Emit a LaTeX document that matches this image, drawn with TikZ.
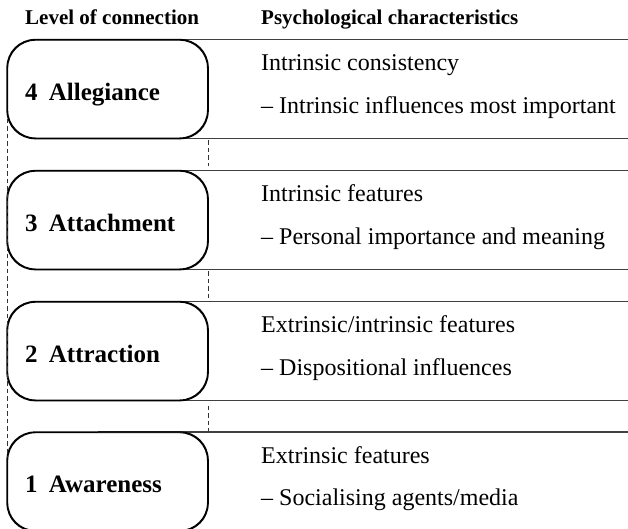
\documentclass[tikz,border=0pt]{standalone}
\usepackage{fontspec}
\setmainfont{Liberation Serif}
\begin{document}
\begin{tikzpicture}[x=1pt,y=-1pt,
  levelbox/.style={draw=black, line width=1.2pt, rounded corners=28pt,
    minimum width=200pt, minimum height=98pt, inner sep=0pt, anchor=north west},
  levellabel/.style={anchor=base west, inner sep=0pt, font=\fontsize{25}{30}\selectfont\bfseries},
  headlabel/.style={anchor=base west, inner sep=0pt, font=\fontsize{21}{25}\selectfont\bfseries},
  desc/.style={anchor=base west, inner sep=0pt, font=\fontsize{24}{29}\selectfont},
  rule/.style={draw=black!75, line width=1.4pt},
  guide/.style={draw=black!80, line width=0.9pt, dash pattern=on 4.5pt off 3pt}]
\useasboundingbox (0,0) rectangle (628,528);
\clip (0,0) rectangle (628,528);
\coordinate (R) at (628,0);

% column headings
\node[headlabel] (h1) at (25,24) {Level of connection};
\node[headlabel] (h2) at (261,24) {Psychological characteristics};

% level boxes (empty shapes, labels placed separately)
\path (7,39.5)  node[levelbox] (b4) {};
\path (7,170.5) node[levelbox] (b3) {};
\path (7,301.5) node[levelbox] (b2) {};
\path (7,432)   node[levelbox] (b1) {};

% horizontal rules bounding each row
\foreach \b in {b4,b3,b2,b1}{
  \draw[rule] ([xshift=-10pt]\b.north) -- (\b.north -| R);
  \draw[rule] ([xshift=-10pt]\b.south) -- (\b.south -| R);
}

% redraw boxes on top of the rules
\foreach \b in {b4,b3,b2,b1}{
  \draw[black, line width=1.2pt, rounded corners=28pt] (\b.north west) rectangle (\b.south east);
}

% level labels
\node[levellabel] (l4) at (25,100.2) {4\hspace{0.45em}Allegiance};
\node[levellabel] (l3) at (25,231.2) {3\hspace{0.45em}Attachment};
\node[levellabel] (l2) at (25,362.2) {2\hspace{0.45em}Attraction};
\node[levellabel] (l1) at (25,492.7) {1\hspace{0.45em}Awareness};

% characteristics
\node[desc] (d4a) at (261,70.9)  {Intrinsic consistency};
\node[desc] (d4b) at (261,113.2) {– Intrinsic influences most important};
\node[desc] (d3a) at (261,201.9) {Intrinsic features};
\node[desc] (d3b) at (261,244.2) {– Personal importance and meaning};
\node[desc] (d2a) at (261,332.9) {Extrinsic/intrinsic features};
\node[desc] (d2b) at (261,375.2) {– Dispositional influences};
\node[desc] (d1a) at (261,463.4) {Extrinsic features};
\node[desc] (d1b) at (261,505.7) {– Socialising agents/media};

% dashed links between successive levels
\draw[guide, shorten <=1.5pt, shorten >=5pt] (b4.south east) -- (b3.north east);
\draw[guide, shorten <=1.5pt, shorten >=2pt] (b3.south east) -- (b2.north east);
\draw[guide, shorten <=5pt, shorten >=1pt] (b2.south east) -- (b1.north east);
\draw[guide] ([yshift=20pt]b4.south west) -- ([yshift=-25pt]b1.north west);
\end{tikzpicture}
\end{document}
